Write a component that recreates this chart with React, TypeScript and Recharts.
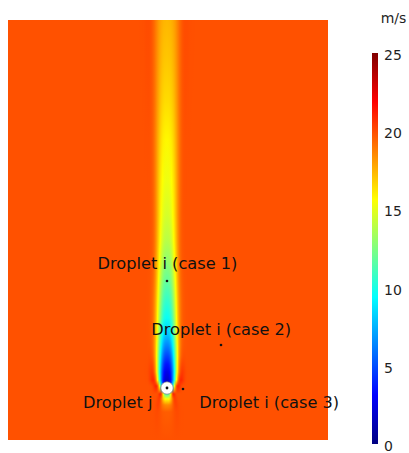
import React from 'react';
import {
  ScatterChart,
  Scatter,
  XAxis,
  YAxis,
  ReferenceArea,
  ReferenceDot,
  BarChart,
  Bar,
} from 'recharts';

const FONT = '"DejaVu Sans", Verdana, sans-serif';

// field window (droplet j at origin)
const X_DOMAIN: [number, number] = [-15.9, 16.1];
const Y_DOMAIN: [number, number] = [-5.2, 36.8];
const BACKGROUND_SPEED = 19.9; // m/s
const MAX_SPEED = 25;

// wake samples, from top of the field down to the bottom
const wakeHeights = [36.8, 32.8, 28.8, 24.8, 20.8, 17.3, 14.8, 12.8, 10.8, 8.8, 7.0, 5.4, 4.2, 3.2, 2.4, 1.6, 0.8, 0.2, -0.6, -1.1, -1.7, -2.4, -5.2];
const wakeCentreSpeed = [17.4, 17.0, 16.5, 15.8, 15.2, 14.6, 13.9, 13.0, 11.9, 10.7, 9.6, 8.0, 6.3, 4.8, 3.6, 2.6, 1.8, 1.2, 11.0, 15.5, 18.5, 19.6, 19.9];
const wakeHalfWidth = [1.35, 1.3, 1.25, 1.2, 1.15, 1.1, 1.07, 1.05, 1.05, 1.05, 1.05, 1.05, 1.05, 1.05, 1.05, 1.05, 1.0, 0.8, 0.5, 0.6, 0.7, 0.8, 0.8];
const wakeFlank = [0.5, 0.5, 0.5, 0.5, 0.5, 0.5, 0.5, 0.5, 0.5, 0.5, 0.6, 0.8, 1.1, 1.6, 2.3, 3.0, 3.8, 4.0, 2.6, 1.2, 0.6, 0.2, 0.0];

// droplets
const dropletINames = ['Droplet i (case 1)', 'Droplet i (case 2)', 'Droplet i (case 3)'];
const dropletIX = [0, 5.4, 1.6];
const dropletIY = [10.7, 4.3, -0.1];
const dropletJName = 'Droplet j';
const dropletJX = 0;
const dropletJY = 0;

// label anchors (text baseline centre)
const labelTexts = ['Droplet i (case 1)', 'Droplet i (case 2)', 'Droplet j', 'Droplet i (case 3)'];
const labelX = [0.05, 5.42, -4.93, 10.22];
const labelY = [11.9, 5.35, -2.04, -2.04];

// colour bar
const colorTicks = [0, 5, 10, 15, 20, 25];
const colorUnit = 'm/s';

// strips across the wake (left edges)
const STRIP = 0.1;
const stripLefts: number[] = [];
for (let i = -32; i < 32; i++) stripLefts.push(i * STRIP);

const clamp = (v: number, a: number, b: number) => Math.max(a, Math.min(b, v));
function jet(t: number): string {
  t = clamp(t, 0, 1);
  const r = clamp(Math.min(4 * t - 1.5, -4 * t + 4.5), 0, 1);
  const g = clamp(Math.min(4 * t - 0.5, -4 * t + 3.5), 0, 1);
  const b = clamp(Math.min(4 * t + 0.5, -4 * t + 2.5), 0, 1);
  const h = (x: number) => Math.round(x * 255).toString(16).padStart(2, '0');
  return '#' + h(r) + h(g) + h(b);
}
function speedAt(dx: number, k: number): number {
  const w = wakeHalfWidth[k];
  const r = Math.abs(dx) / w;
  const deficit = (BACKGROUND_SPEED - wakeCentreSpeed[k]) * Math.exp(-Math.pow(r, 2.5));
  const flank = wakeFlank[k] * Math.exp(-Math.pow((r - 1.15) / 0.45, 2));
  return BACKGROUND_SPEED - deficit + flank;
}

const labelPoints = labelTexts.map((name, i) => ({ x: labelX[i], y: labelY[i], name }));
const dropletPoints = dropletINames.map((name, i) => ({ x: dropletIX[i], y: dropletIY[i], name }));

function Defs() {
  const span = Y_DOMAIN[1] - Y_DOMAIN[0];
  return (
    <svg width={0} height={0} style={{ position: 'absolute' }}>
      <defs>
        {stripLefts.map((x0, s) => (
          <linearGradient key={s} id={`strip${s}`} x1="0" y1="0" x2="0" y2="1">
            {wakeHeights.map((h, k) => (
              <stop
                key={k}
                offset={(Y_DOMAIN[1] - h) / span}
                stopColor={jet(speedAt(x0 + STRIP / 2, k) / MAX_SPEED)}
              />
            ))}
          </linearGradient>
        ))}
        <linearGradient id="jetBar" x1="0" y1="0" x2="0" y2="1">
          {[0, 0.125, 0.25, 0.375, 0.5, 0.625, 0.75, 0.875, 1].map((o) => (
            <stop key={o} offset={o} stopColor={jet(1 - o)} />
          ))}
        </linearGradient>
      </defs>
    </svg>
  );
}

const DotShape = (p: any) => <circle cx={p.cx} cy={p.cy} r={1.3} fill="#111" />;
const LabelShape = (p: any) => (
  <text x={p.cx} y={p.cy} textAnchor="middle" fontSize={16.2} fontFamily={FONT} fill="#111">
    {p.payload.name}
  </text>
);

export default function App() {
  return (
    <div style={{ position: 'relative', width: 409, height: 453, overflow: 'visible' }}>
      <style>{'html,body{margin:0;padding:0;overflow:hidden} #root{overflow:visible} svg.recharts-surface{overflow:visible}'}</style>
      <Defs />
      <div style={{ position: 'absolute', left: 8, top: 8 }}>
        <ScatterChart width={393} height={437} margin={{ top: 12, right: 73, bottom: 5, left: 0 }}>
          <XAxis type="number" dataKey="x" domain={X_DOMAIN} hide />
          <YAxis type="number" dataKey="y" domain={Y_DOMAIN} hide />
          <ReferenceArea
            x1={X_DOMAIN[0]}
            x2={X_DOMAIN[1]}
            y1={Y_DOMAIN[0]}
            y2={Y_DOMAIN[1]}
            fill={jet(BACKGROUND_SPEED / MAX_SPEED)}
            fillOpacity={1}
          />
          {stripLefts.map((x0, s) => (
            <ReferenceArea
              key={s}
              x1={x0}
              x2={x0 + STRIP}
              y1={Y_DOMAIN[0]}
              y2={Y_DOMAIN[1]}
              fill={`url(#strip${s})`}
              fillOpacity={1}
            />
          ))}
          <ReferenceDot x={dropletJX} y={dropletJY} r={6.2} fill="#ffffff" stroke="#777" strokeWidth={0.7} />
          <ReferenceDot x={dropletJX} y={dropletJY} r={1.4} fill="#111" stroke="none" />
          <Scatter name="droplets i" data={dropletPoints} shape={DotShape} isAnimationActive={false} />
          <Scatter name={dropletJName} data={labelPoints} shape={LabelShape} isAnimationActive={false} />
        </ScatterChart>
      </div>
      <div style={{ position: 'absolute', left: 360, top: 8 }}>
        <BarChart
          width={49}
          height={445}
          data={[{ name: 'speed', top: MAX_SPEED }]}
          margin={{ top: 45, right: 0, bottom: 9, left: 12 }}
          barCategoryGap={0}
        >
          <XAxis dataKey="name" hide />
          <YAxis
            orientation="right"
            type="number"
            domain={[0, MAX_SPEED]}
            ticks={colorTicks}
            interval={0}
            width={31}
            axisLine={false}
            tickLine={false}
            tickSize={4}
            tickMargin={2}
            tick={{ fontSize: 14, fill: '#1f1f1f', fontFamily: FONT, dy: 2 }}
            label={{ value: colorUnit, position: 'top', offset: 30, fontSize: 14, fill: '#1f1f1f', fontFamily: FONT }}
          />
          <Bar dataKey="top" fill="url(#jetBar)" isAnimationActive={false} />
        </BarChart>
      </div>
    </div>
  );
}
